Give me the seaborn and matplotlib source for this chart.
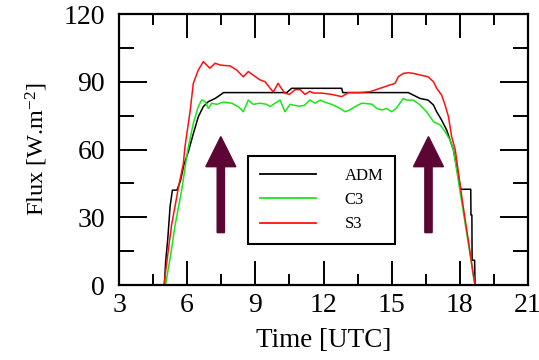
import matplotlib
matplotlib.use("Agg")
import matplotlib.pyplot as plt
from matplotlib.lines import Line2D
import seaborn as sns
import pandas as pd
import numpy as np

# ---------------- data ----------------
t_adm = [5.0, 5.05, 5.15, 5.25, 5.35, 5.55, 5.7, 5.85, 6.05, 6.27, 6.49, 6.71, 6.93,
         7.23, 7.45, 7.6, 10.38, 10.6, 12.8, 12.85, 15.73, 15.95, 16.25, 16.6, 16.84,
         16.98, 17.2, 17.42, 17.57, 17.72, 17.9, 18.04, 18.48, 18.49, 18.53, 18.54,
         18.65, 18.67]
f_adm = [0, 10, 21, 35, 42, 42, 46, 53, 59, 67, 74.5, 79, 81.2,
         82.6, 84.1, 85.2, 85.2, 87.1, 87.1, 85.2, 85.2, 84.1, 82.6, 81.9, 79.7,
         76.7, 73, 68.6, 64.2, 59.8, 50, 42.4, 42.4, 31, 31, 11,
         11, 0]

t_c3 = [5.05, 5.3, 5.46, 5.76, 5.98, 6.05, 6.27, 6.49, 6.64, 6.79, 6.93, 7.08, 7.3,
        7.6, 7.96, 8.25, 8.47, 8.69, 8.9, 9.2, 9.5, 9.65, 9.87, 10.09, 10.3, 10.53,
        10.9, 11.15, 11.4, 11.63, 11.85, 12.05, 12.36, 12.73, 12.95, 13.15, 13.39,
        13.68, 14.12, 14.34, 14.56, 14.78, 15.0, 15.2, 15.51, 15.66, 15.95, 16.25,
        16.54, 16.84, 17.13, 17.35, 17.57, 17.72, 18.0, 18.3, 18.6, 18.67]
f_c3 = [0, 15, 26, 42, 57, 61, 71.6, 79, 81.9, 81.2, 78.2, 80.5, 80,
        81, 80.5, 79, 76.7, 81.9, 80, 80.5, 80, 79, 80.5, 81.9, 76.7, 80,
        79.2, 79.5, 81.9, 80.5, 81.9, 81, 80, 78.2, 76.7, 77.5, 79,
        80.5, 80.1, 78.2, 77.5, 78.2, 76.7, 78.2, 82.6, 81.9, 81.9, 79.7,
        76.7, 72.3, 70.9, 67.9, 64.2, 59.8, 42, 23, 4, 0]

t_s3 = [4.98, 5.17, 5.32, 5.46, 5.61, 5.83, 5.9, 6.13, 6.27, 6.49, 6.71, 6.86, 7.0,
        7.23, 7.45, 7.89, 8.18, 8.47, 8.69, 8.91, 9.21, 9.43, 9.65, 9.79, 10.0,
        10.15, 10.3, 10.5, 10.75, 10.97, 11.19, 11.4, 11.55, 11.9, 12.36, 12.8,
        13.1, 13.6, 14.05, 14.49, 14.93, 15.15, 15.29, 15.51, 15.73, 15.95, 16.25,
        16.6, 16.84, 16.98, 17.2, 17.35, 17.5, 17.64, 17.8, 18.1, 18.4, 18.6, 18.67]
f_s3 = [0, 15.5, 27, 34.5, 43, 53.6, 61, 77, 89.3, 95.2, 98.9, 97.4, 96,
        98.2, 97.4, 97, 95.2, 92.2, 94.5, 92.9, 90.8, 90, 87.1, 85.5, 89.3,
        87, 85, 84.4, 86.5, 86.5, 84.4, 85.8, 85, 85, 84.4, 83.4,
        85.2, 85.2, 85.6, 87.1, 88.6, 89.3, 92.2, 93.7, 94, 93.7, 93,
        92.2, 90, 87.1, 84.1, 79.7, 74.5, 65.7, 59.8, 38, 18, 4, 0]

series_names = ["ADM", "C3", "S3"]
series_colors = ["#000000", "#19e619", "#ff1010"]

x_ticks = [3, 6, 9, 12, 15, 18, 21]
y_ticks = [0, 30, 60, 90, 120]
x_minor_step = 1.5
y_minor_step = 15

# annotation arrows (time of arrow, base flux, tip flux)
arrow_x = [7.48, 16.62]
arrow_base = 23.2
arrow_tip = 65.7

# ---------------- plot ----------------
plt.rcParams["font.family"] = ["Liberation Serif", "DejaVu Serif"]
plt.rcParams["mathtext.fontset"] = "custom"
plt.rcParams["mathtext.rm"] = "Liberation Serif"
plt.rcParams["mathtext.it"] = "Liberation Serif:italic"

frames = []
for name, t, f in zip(series_names, [t_adm, t_c3, t_s3], [f_adm, f_c3, f_s3]):
    frames.append(pd.DataFrame({"time": t, "flux": f, "model": name}))
df = pd.concat(frames, ignore_index=True)

fig = plt.figure(figsize=(5.39, 3.60), dpi=100)
ax = fig.add_axes([0.2208, 0.2083, 0.7588, 0.7528])

sns.lineplot(data=df, x="time", y="flux", hue="model", hue_order=series_names,
             palette=dict(zip(series_names, series_colors)), estimator=None,
             sort=False, linewidth=1.1, legend=False, ax=ax)

for xa in arrow_x:
    ax.arrow(xa, arrow_base, 0, arrow_tip - arrow_base, width=0.32,
             head_width=1.32, head_length=13.3, length_includes_head=True,
             color="#5c0733", zorder=5)

ax.set_xlim(x_ticks[0], x_ticks[-1])
ax.set_ylim(y_ticks[0], y_ticks[-1])
ax.set_xticks(x_ticks)
ax.set_yticks(y_ticks)

# tick labels from matplotlib; tick marks drawn explicitly (inward, all four sides)
ax.tick_params(axis="both", which="both", length=0, labelsize=20,
               labelcolor="black")
ax.tick_params(axis="x", pad=6)
ax.tick_params(axis="y", pad=10)

x_minor = np.arange(x_ticks[0], x_ticks[-1] + 1e-9, x_minor_step)
y_minor = np.arange(y_ticks[0], y_ticks[-1] + 1e-9, y_minor_step)
xt = ax.get_xaxis_transform()
yt = ax.get_yaxis_transform()
tick_kw = dict(color="black", linewidth=1.4, clip_on=False, zorder=6,
               solid_capstyle="butt")
for xv in x_minor:
    L = 0.0886 if any(abs(xv - m) < 1e-6 for m in x_ticks) else 0.040
    ax.plot([xv, xv], [0, L], transform=xt, **tick_kw)
    ax.plot([xv, xv], [1, 1 - L], transform=xt, **tick_kw)
for yv in y_minor:
    L = 0.0685 if any(abs(yv - m) < 1e-6 for m in y_ticks) else 0.0367
    ax.plot([0, L], [yv, yv], transform=yt, **tick_kw)
    ax.plot([1, 1 - L], [yv, yv], transform=yt, **tick_kw)

for sp in ax.spines.values():
    sp.set_linewidth(1.6)
    sp.set_color("black")
    sp.set_zorder(7)

ax.set_xlabel("Time [UTC]", fontsize=19.5, labelpad=7)
ax.set_ylabel("Flux [W.m$^{-2}$]", fontsize=17.5, labelpad=10)

handles = [Line2D([0], [0], color=c, lw=1.3) for c in series_colors]
leg = ax.legend(handles, series_names, loc="upper left",
                bbox_to_anchor=(0.315, 0.476), borderaxespad=0,
                fontsize=12, handlelength=3.4, handletextpad=1.7,
                labelspacing=0.5, borderpad=0.7, frameon=True,
                fancybox=False, framealpha=1, edgecolor="black")
leg.get_frame().set_linewidth(1.5)

fig.savefig("out.png", dpi=100)
